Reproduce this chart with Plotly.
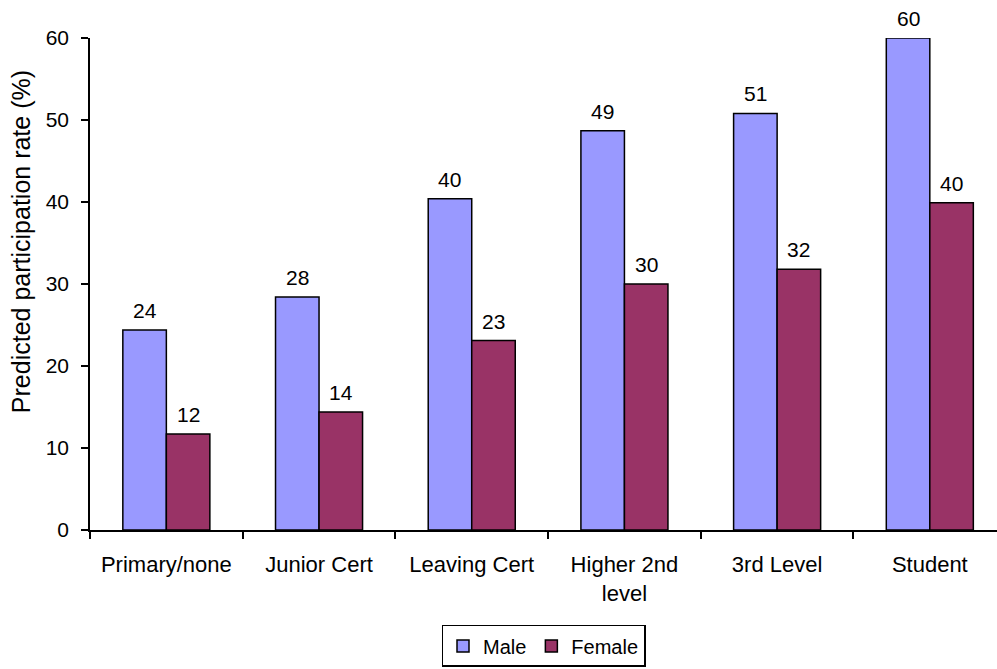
import plotly.graph_objects as go

# Predicted participation rate by education level and sex
categories = ["Primary/none", "Junior Cert", "Leaving Cert", "Higher 2nd<br>level", "3rd Level", "Student"]
male = [24.4, 28.4, 40.4, 48.7, 50.8, 60.0]
female = [11.7, 14.4, 23.1, 30.0, 31.8, 39.9]
y_ticks = [0, 10, 20, 30, 40, 50, 60]

MALE_COLOR = "#9999FF"
FEMALE_COLOR = "#993366"
FONT = "Liberation Sans, Arial, sans-serif"

W, H = 997, 669
M_LEFT, M_RIGHT, M_TOP, M_BOTTOM = 90, 0, 38, 139

fig = go.Figure()
fig.add_trace(go.Bar(name="Male", x=categories, y=male, marker=dict(color=MALE_COLOR, line=dict(color="black", width=1.5))))
fig.add_trace(go.Bar(name="Female", x=categories, y=female, marker=dict(color=FEMALE_COLOR, line=dict(color="black", width=1.5))))

# category width in pixels (plot ends slightly before the last category's edge)
x_max = 5.44
cat_px = (W - M_LEFT - M_RIGHT) / (x_max + 0.5)
bargap = 0.43
half_bar = cat_px * (1 - bargap) / 4

annotations = []
for series, shift in ((male, -half_bar), (female, half_bar)):
    for cat, v in zip(categories, series):
        annotations.append(dict(
            x=cat, y=v, xref="x", yref="y", text=f"{v:.0f}", showarrow=False,
            xanchor="center", yanchor="bottom", xshift=shift, yshift=6,
            font=dict(family=FONT, size=21, color="black"),
        ))

# y-axis title
annotations.append(dict(
    x=0, y=0.585, xref="paper", yref="paper", xshift=-69,
    text="Predicted participation rate (%)", textangle=-90, showarrow=False,
    xanchor="center", yanchor="middle", font=dict(family=FONT, size=25, color="black"),
))

fig.update_layout(
    width=W, height=H,
    margin=dict(l=M_LEFT, r=M_RIGHT, t=M_TOP, b=M_BOTTOM, autoexpand=False),
    paper_bgcolor="white", plot_bgcolor="white",
    barmode="group", bargap=bargap, bargroupgap=0,
    font=dict(family=FONT, size=22, color="black"),
    showlegend=True,
    legend=dict(
        orientation="h", x=0.5, xanchor="center",
        yref="container", y=0.003, yanchor="bottom",
        bordercolor="black", borderwidth=1.5, font=dict(size=20),
        itemwidth=30, tracegroupgap=0,
    ),
    annotations=annotations,
    xaxis=dict(
        type="category", range=[-0.5, x_max], automargin=False,
        showline=True, linecolor="black", linewidth=1.5,
        ticks="outside", tickson="boundaries", ticklen=7, tickcolor="black", tickwidth=1.5,
        showgrid=False, tickfont=dict(size=22), ticklabelstandoff=14,
    ),
    yaxis=dict(
        range=[0, 60], tickvals=y_ticks, automargin=False,
        showline=True, linecolor="black", linewidth=1.5,
        ticks="outside", ticklen=7, tickcolor="black", tickwidth=1.5,
        showgrid=False, zeroline=False, tickfont=dict(size=21), ticklabelstandoff=8,
    ),
)

fig.write_html("out.html")
